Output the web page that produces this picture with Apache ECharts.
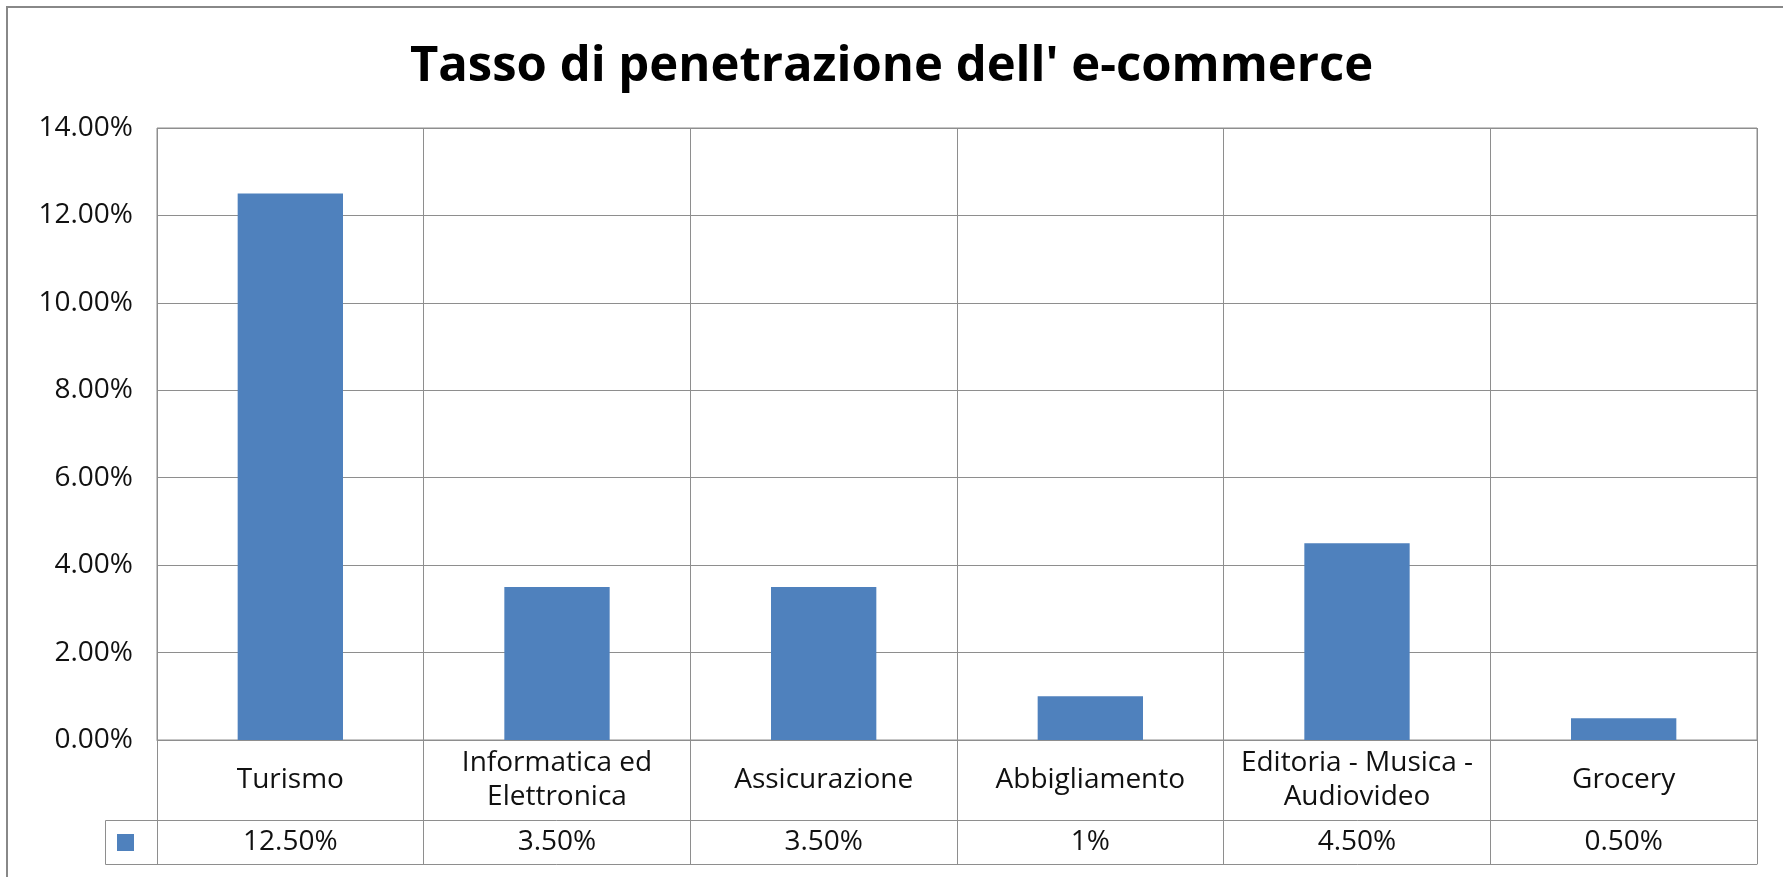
<!DOCTYPE html>
<html>
<head>
<meta charset="utf-8">
<script src="https://cdn.jsdelivr.net/npm/echarts@6/dist/echarts.min.js"></script>
<style>
  html, body { margin: 0; padding: 0; background: #fff; }
  #chart { width: 1783px; height: 877px; }
</style>
</head>
<body>
<div id="chart"></div>
<script>
// dati
const categories = ['Turismo', 'Informatica ed\nElettronica', 'Assicurazione', 'Abbigliamento', 'Editoria - Musica -\nAudiovideo', 'Grocery']
const values = [12.5, 3.5, 3.5, 1, 4.5, 0.5]
const tableLabels = ['12.50%', '3.50%', '3.50%', '1%', '4.50%', '0.50%']
const yMin = 0, yMax = 14, yStep = 2

const lineColor = '#8E8E8E'
const barColor = '#4F81BD'
const font = "'Open Sans', sans-serif"

const chart = echarts.init(document.getElementById('chart'))

const option = {
  animation: false,
  backgroundColor: '#fff',
  title: {
    text: "Tasso di penetrazione dell' e-commerce",
    left: 'center',
    top: 38,
    padding: [5, 5, 5, 21],
    textStyle: { fontFamily: font, fontWeight: 'bold', fontSize: 49, color: '#000' }
  },
  legend: {
    data: ['Tasso'],
    left: 112,
    top: 829,
    itemWidth: 17,
    itemHeight: 17,
    icon: 'rect',
    formatter: () => '',
    selectedMode: false
  },
  grid: {
    left: 157,
    right: 26,
    top: 128,
    bottom: 137,
    show: true,
    borderColor: lineColor,
    borderWidth: 1
  },
  xAxis: [
    {
      type: 'category',
      data: categories,
      boundaryGap: true,
      axisLine: { show: true, lineStyle: { color: lineColor } },
      axisTick: { show: true, length: 124, lineStyle: { color: lineColor } },
      splitLine: { show: true, lineStyle: { color: lineColor } },
      axisLabel: {
        margin: 40,
        verticalAlign: 'middle',
        lineHeight: 34,
        fontFamily: font,
        fontSize: 28,
        color: '#111',
        interval: 0
      }
    },
    {
      // riga dei valori della tabella
      type: 'category',
      data: tableLabels,
      position: 'bottom',
      offset: 80,
      axisLine: { show: true, lineStyle: { color: lineColor } },
      axisTick: { show: false },
      axisLabel: {
        margin: 22,
        verticalAlign: 'middle',
        fontFamily: font,
        fontSize: 28,
        color: '#111',
        interval: 0
      }
    },
    {
      type: 'category',
      data: tableLabels,
      position: 'bottom',
      offset: 124,
      axisLine: { show: true, lineStyle: { color: lineColor } },
      axisTick: { show: false },
      axisLabel: { show: false }
    }
  ],
  yAxis: {
    type: 'value',
    min: yMin,
    max: yMax,
    interval: yStep,
    axisLine: { show: false },
    axisTick: { show: false },
    splitLine: { lineStyle: { color: lineColor } },
    axisLabel: {
      margin: 24,
      fontFamily: font,
      fontSize: 28,
      color: '#111',
      formatter: v => v.toFixed(2) + '%'
    }
  },
  series: [
    {
      name: 'Tasso',
      type: 'bar',
      data: values,
      barWidth: '39.5%',
      itemStyle: { color: barColor }
    }
  ],
  graphic: [
    {
      type: 'rect',
      shape: { x: 7, y: 7, width: 1800, height: 900 },
      style: { fill: 'none', stroke: '#888', lineWidth: 2 },
      silent: true
    },
    {
      // cella legenda della tabella
      type: 'rect',
      shape: { x: 105.5, y: 820.5, width: 52, height: 44 },
      style: { fill: 'none', stroke: lineColor, lineWidth: 1 },
      silent: true
    }
  ]
}

chart.setOption(option)
</script>
</body>
</html>
